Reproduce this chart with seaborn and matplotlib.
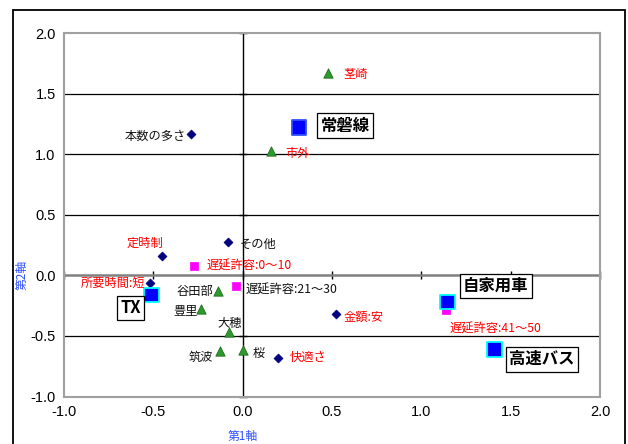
import matplotlib
matplotlib.use("Agg")
import matplotlib.pyplot as plt
import seaborn as sns
import pandas as pd
from matplotlib.patches import Rectangle

# ---- data ----
attr_labels = ["本数の多さ", "その他", "定時制", "所要時間:短", "快適さ", "金額:安"]
attr_x = [-0.29, -0.08, -0.45, -0.52, 0.20, 0.52]
attr_y = [1.17, 0.28, 0.16, -0.066, -0.68, -0.32]

delay_labels = ["遅延許容:0～10", "遅延許容:21～30", "遅延許容:41～50"]
delay_x = [-0.27, -0.036, 1.136]
delay_y = [0.074, -0.086, -0.287]

area_labels = ["茎崎", "市外", "谷田部", "豊里", "大穂", "筑波", "桜"]
area_x = [0.48, 0.16, -0.137, -0.235, -0.075, -0.127, 0.0]
area_y = [1.675, 1.03, -0.13, -0.28, -0.47, -0.625, -0.617]

mode_labels = ["常磐線", "TX", "自家用車", "高速バス"]
mode_x = [0.315, -0.51, 1.147, 1.408]
mode_y = [1.22, -0.163, -0.218, -0.61]

x_ticks = [-1.0, -0.5, 0.0, 0.5, 1.0, 1.5, 2.0]
y_ticks = [-1.0, -0.5, 0.0, 0.5, 1.0, 1.5, 2.0]
x_title = "第1軸"
y_title = "第2軸"

sns.set_theme(style="white")
plt.rcParams["font.family"] = ["Noto Sans CJK JP", "DejaVu Sans"]

fig = plt.figure(figsize=(6.28, 4.44), dpi=100)
ax = fig.add_axes([64 / 628, 1 - 396.5 / 444, 536 / 628, 363.2 / 444])

# outer chart frame
fig.patches.append(Rectangle((12.5 / 628, -0.1), (625 - 12.5) / 628, 1.1 - 10 / 444,
                             transform=fig.transFigure, fill=False, edgecolor="black",
                             linewidth=1.3, zorder=0))

ax.set_xlim(-1.0, 2.0)
ax.set_ylim(-1.0, 2.0)

# gridlines
for yv in y_ticks:
    if yv not in (0.0, 2.0, -1.0):
        ax.axhline(yv, color="black", linewidth=0.9, zorder=1)
ax.axhline(0.0, color="#808080", linewidth=1.8, zorder=1)
ax.axvline(0.0, color="black", linewidth=1.0, zorder=1)

# crossing axis ticks
sx = ax.secondary_xaxis(1 / 3)
sx.set_xticks(x_ticks)
sx.tick_params(direction="inout", length=6, width=1, color="black", labelbottom=False, labeltop=False)
sx.spines["bottom"].set_visible(False)
sx.spines["top"].set_visible(False)
sy = ax.secondary_yaxis(1 / 3)
sy.set_yticks(y_ticks)
sy.tick_params(direction="inout", length=6, width=1, color="black", labelleft=False, labelright=False)
sy.spines["left"].set_visible(False)
sy.spines["right"].set_visible(False)

# markers
df_attr = pd.DataFrame({"x": attr_x, "y": attr_y})
df_delay = pd.DataFrame({"x": delay_x, "y": delay_y})
df_area = pd.DataFrame({"x": area_x, "y": area_y})
df_mode = pd.DataFrame({"x": mode_x, "y": mode_y})

sns.scatterplot(data=df_attr, x="x", y="y", ax=ax, marker="D", s=22, color="#000080",
                edgecolor="#000080", zorder=3)
sns.scatterplot(data=df_delay, x="x", y="y", ax=ax, marker="s", s=40, color="#FF00FF",
                edgecolor="#FF00FF", zorder=3)
sns.scatterplot(data=df_area, x="x", y="y", ax=ax, marker="^", s=45, color="#2E9A2E",
                edgecolor="#1E6E1E", linewidth=0.6, zorder=3)
sns.scatterplot(data=df_mode, x="x", y="y", ax=ax, marker="s", s=110, color="#0000FF",
                edgecolor=["#3050FF", "#00FFFF", "#00FFFF", "#00FFFF"], linewidth=1.3, zorder=4)

PX = 0.72  # pixel -> points

def lab(text, x, y, dx, dy, ha, color, size=8.8, weight="normal", box=False):
    kw = {}
    if box:
        kw["bbox"] = dict(boxstyle="square,pad=0.2", facecolor="white", edgecolor="black", linewidth=0.9)
    ax.annotate(text, (x, y), xytext=(dx * PX, -dy * PX), textcoords="offset points",
                ha=ha, va="center", color=color, fontsize=size, fontweight=weight, zorder=5, **kw)

red = "#FF0000"
blk = "#111111"
attr_cfg = [(-5, 3, "right", blk), (11, 3, "left", blk), (-17, -13, "center", red),
            (-4, 0, "right", red), (11, 0, "left", red), (8, 3, "left", red)]
for t, x, y, c in zip(attr_labels, attr_x, attr_y, attr_cfg):
    lab(t, x, y, c[0], c[1], c[2], c[3])

delay_cfg = [(12, 0, "left", red), (9, 4, "left", blk), (4, 19, "left", red)]
for t, x, y, c in zip(delay_labels, delay_x, delay_y, delay_cfg):
    lab(t, x, y, c[0], c[1], c[2], c[3])

area_cfg = [(15, 2, "left", red), (14, 3, "left", red), (-5, 0, "right", blk),
            (-3, 2, "right", blk), (0, -9, "center", blk), (-7, 6, "right", blk),
            (10, 3, "left", blk)]
for t, x, y, c in zip(area_labels, area_x, area_y, area_cfg):
    lab(t, x, y, c[0], c[1], c[2], c[3])

mode_cfg = [(46, -2, "center"), (-21, 13, "center"), (48, -16, "center"), (48, 10, "center")]
for t, x, y, c in zip(mode_labels, mode_x, mode_y, mode_cfg):
    lab(t, x, y, c[0], c[1], c[2], "black", size=11.8, weight="bold", box=True)

# axes styling
ax.set_xticks(x_ticks)
ax.set_yticks(y_ticks)
ax.set_xticklabels([f"{v:.1f}" for v in x_ticks], fontfamily="Liberation Sans", fontsize=10.5)
ax.set_yticklabels([f"{v:.1f}" for v in y_ticks], fontfamily="Liberation Sans", fontsize=10.5)
ax.tick_params(axis="both", length=0, pad=6, colors="black")
for sp in ax.spines.values():
    sp.set_color("#A0A0A0")
    sp.set_linewidth(1.5)
ax.set_xlabel(x_title, color="#3050FF", fontsize=8.5, labelpad=1)
ax.set_ylabel(y_title, color="#3050FF", fontsize=8.5, labelpad=2)
ax.xaxis.set_label_coords(1 / 3, -0.092)
ax.yaxis.set_label_coords(-0.067, 1 / 3)

fig.savefig("out.png", dpi=100)
